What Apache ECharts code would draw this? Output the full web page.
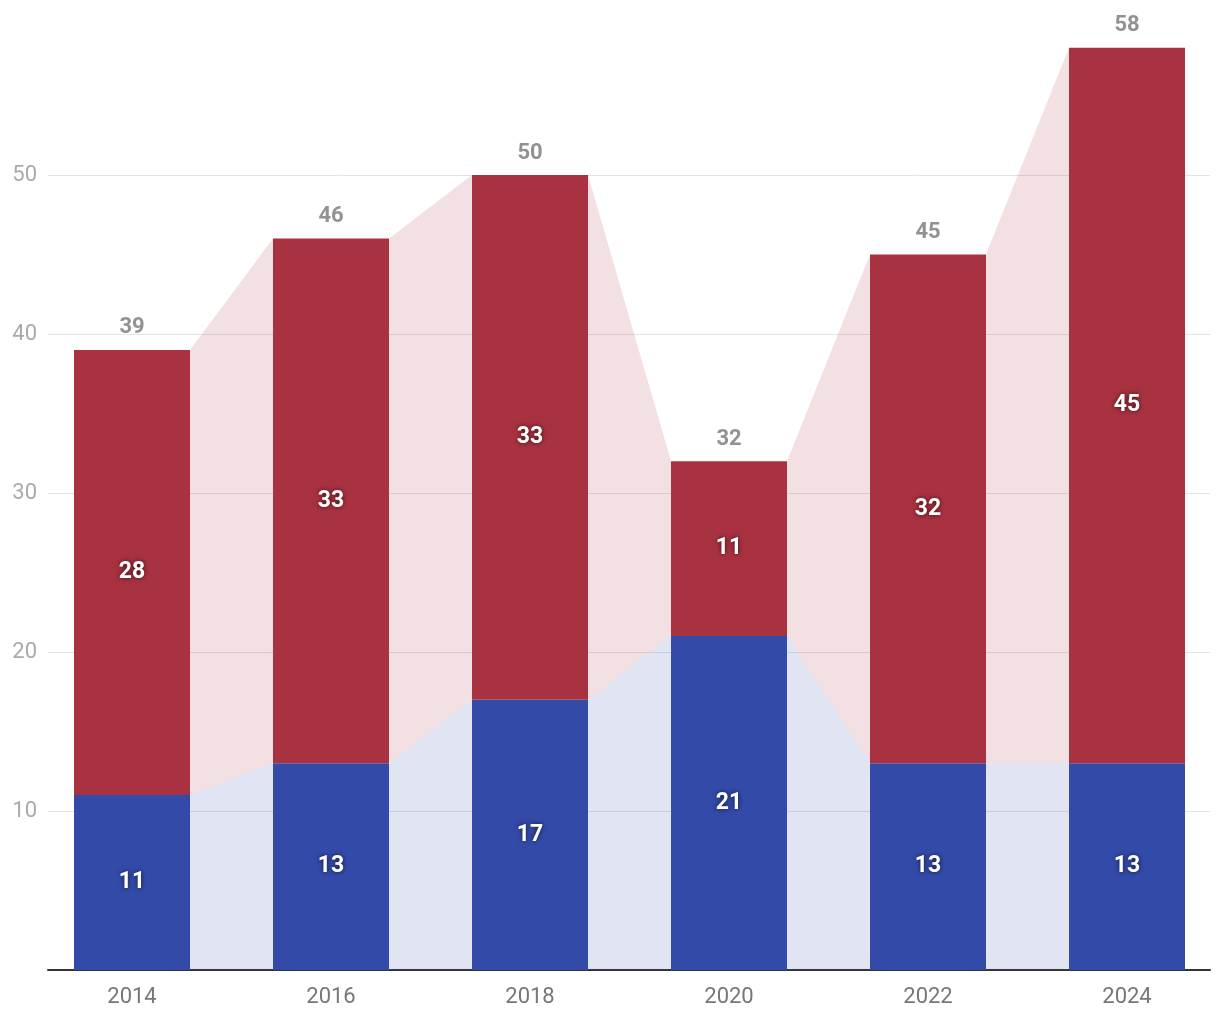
<!DOCTYPE html>
<html>
<head>
<meta charset="utf-8">
<script src="https://cdn.jsdelivr.net/npm/echarts@6/dist/echarts.min.js"></script>
<style>
html,body{margin:0;padding:0;background:#fff;}
#chart{width:1220px;height:1020px;}
</style>
</head>
<body>
<div id="chart"></div>
<script>
const categories = ['2014', '2016', '2018', '2020', '2022', '2024'];
const blueValues = [11, 13, 17, 21, 13, 13];
const redValues = [28, 33, 33, 11, 32, 45];
const yTicks = [0, 10, 20, 30, 40, 50, 60];

const totals = blueValues.map((b, i) => b + redValues[i]);
const BAR_W = 116;
const FONT = 'Roboto, "Noto Sans", sans-serif';

const chart = echarts.init(document.getElementById('chart'));

function renderArea(params, api) {
  const i = params.dataIndex;
  const n = categories.length;
  if (i >= n - 1) return null;
  const half = BAR_W / 2;
  const x0 = api.coord([i, 0])[0] + half;
  const x1 = api.coord([i + 1, 0])[0] - half;
  const base = api.coord([i, 0])[1];
  const yb0 = api.coord([i, blueValues[i]])[1];
  const yb1 = api.coord([i + 1, blueValues[i + 1]])[1];
  const yt0 = api.coord([i, totals[i]])[1];
  const yt1 = api.coord([i + 1, totals[i + 1]])[1];
  return {
    type: 'group',
    children: [
      { type: 'polygon', shape: { points: [[x0, base], [x0, yb0], [x1, yb1], [x1, base]] },
        style: { fill: 'rgba(51,74,171,0.15)' } },
      { type: 'polygon', shape: { points: [[x0, yb0], [x0, yt0], [x1, yt1], [x1, yb1]] },
        style: { fill: 'rgba(168,50,62,0.15)' } }
    ]
  };
}

const innerLabel = {
  show: true,
  position: 'inside',
  color: '#fff',
  fontFamily: FONT,
  fontWeight: 'bold',
  fontSize: 23,
  textShadowColor: 'rgba(0,0,0,0.7)',
  textShadowBlur: 5
};

chart.setOption({
  animation: false,
  backgroundColor: '#fff',
  grid: [
    { left: 48, right: 10, top: 16, bottom: 50 },
    { left: 132, right: 93, top: 16, bottom: 50 }
  ],
  xAxis: [
    { gridIndex: 0, type: 'value', min: 0, max: 1,
      axisLine: { show: true, onZero: false, lineStyle: { color: '#333', width: 2 } },
      axisTick: { show: false }, axisLabel: { show: false }, splitLine: { show: false } },
    { gridIndex: 1, type: 'category', data: categories, boundaryGap: false,
      axisLine: { show: false }, axisTick: { show: false },
      axisLabel: { color: '#777', fontFamily: FONT, fontSize: 22, margin: 16 } }
  ],
  yAxis: [
    { gridIndex: 0, type: 'value', min: yTicks[0], max: yTicks[yTicks.length - 1], interval: 10,
      axisLine: { show: false }, axisTick: { show: false },
      axisLabel: { color: '#aaa', fontFamily: FONT, fontSize: 22, margin: 11,
        showMaxLabel: false,
        formatter: v => (v === 0 ? '' : String(v)) },
      splitLine: { show: true, showMaxLine: false, lineStyle: { color: '#e3e3e3', width: 1 } } },
    { gridIndex: 1, type: 'value', min: yTicks[0], max: yTicks[yTicks.length - 1],
      show: false, splitLine: { show: false } }
  ],
  series: [
    { type: 'custom', xAxisIndex: 1, yAxisIndex: 1, z: 1,
      data: categories.map((c, i) => [i, totals[i]]),
      encode: { x: 0, y: 1 },
      renderItem: renderArea, silent: true },
    { type: 'bar', xAxisIndex: 1, yAxisIndex: 1, stack: 'a', z: 5,
      data: blueValues, barWidth: BAR_W,
      itemStyle: { color: '#334aa9' }, label: innerLabel },
    { type: 'bar', xAxisIndex: 1, yAxisIndex: 1, stack: 'a', z: 5,
      data: redValues, barWidth: BAR_W,
      itemStyle: { color: '#a93240' }, label: innerLabel },
    { type: 'scatter', xAxisIndex: 1, yAxisIndex: 1, z: 6,
      data: totals, symbolSize: 0,
      label: { show: true, position: 'top', distance: 11, color: '#777',
        fontFamily: FONT, fontWeight: 'bold', fontSize: 22,
        formatter: p => String(p.value) } }
  ]
});
</script>
</body>
</html>
